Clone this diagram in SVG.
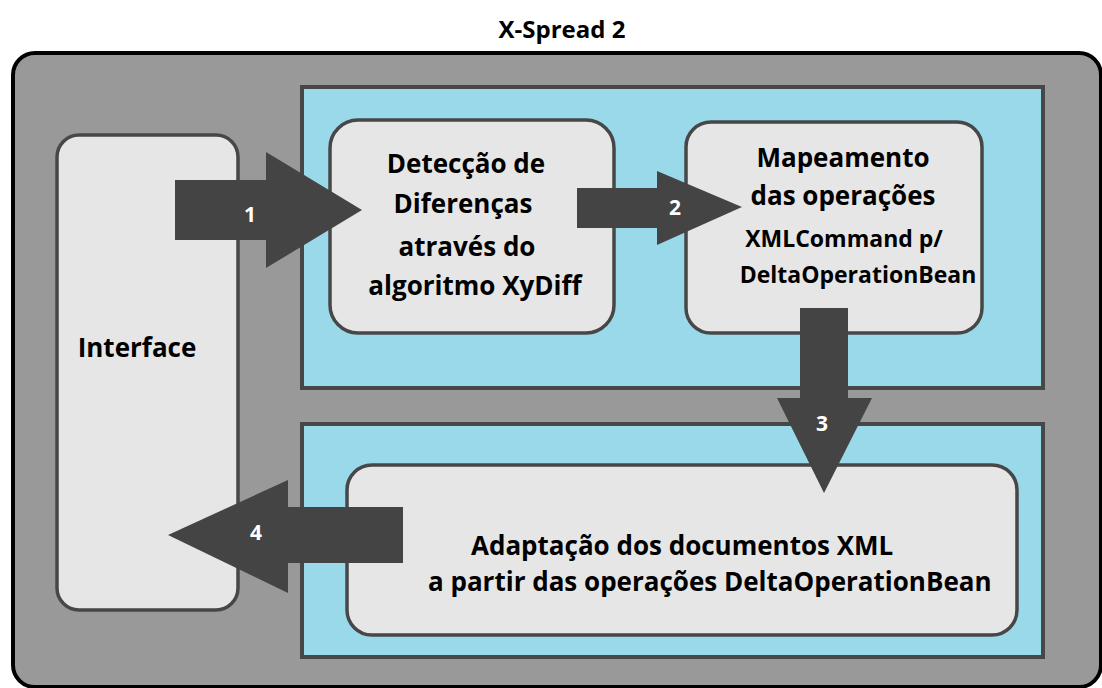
<svg xmlns="http://www.w3.org/2000/svg" width="1102" height="688" viewBox="0 0 1102 688">
  <style>
    .title { font-family: "Open Sans", "Liberation Sans", sans-serif; font-weight: bold; font-size: 24px; fill: #000; }
    .lbl { font-family: "Open Sans", "Liberation Sans", sans-serif; font-weight: bold; font-size: 26px; fill: #000; }
    .lbl-s { font-family: "Open Sans", "Liberation Sans", sans-serif; font-weight: bold; font-size: 23px; fill: #000; }
    .num { font-family: "Open Sans", "Liberation Sans", sans-serif; font-weight: bold; font-size: 21px; fill: #fff; text-anchor: middle; }
    .box { fill: #e6e6e6; stroke: #474747; stroke-width: 3.5; }
    .panel { fill: #99d9ea; stroke: #474747; stroke-width: 4; }
    .arrow { fill: #444444; }
  </style>

  <rect width="1102" height="688" fill="#ffffff"/>
  <text class="title" x="562" y="38" text-anchor="middle">X-Spread 2</text>

  <!-- outer container -->
  <g id="container">
    <rect x="13" y="53" width="1088" height="634" rx="22" fill="#999999" stroke="#000" stroke-width="4"/>
  </g>

  <g id="panel-top">
    <rect class="panel" x="302" y="87" width="741" height="301"/>
  </g>
  <g id="panel-bottom">
    <rect class="panel" x="302" y="424" width="741" height="233"/>
  </g>

  <g id="interface">
    <rect class="box" x="57" y="135" width="181" height="475" rx="22"/>
    <text class="lbl" x="137" y="357" text-anchor="middle">Interface</text>
  </g>

  <g id="deteccao">
    <rect class="box" x="330" y="120" width="284" height="213" rx="28"/>
    <text class="lbl" x="466" y="173" text-anchor="middle">Detecção de</text>
    <text class="lbl" x="463" y="213" text-anchor="middle">Diferenças</text>
    <text class="lbl" x="467" y="256" text-anchor="middle">através do</text>
    <text class="lbl" x="475" y="295" text-anchor="middle">algoritmo XyDiff</text>
  </g>

  <g id="mapeamento">
    <rect class="box" x="686" y="122" width="296" height="211" rx="25"/>
    <text class="lbl" x="843" y="167" text-anchor="middle">Mapeamento</text>
    <text class="lbl" x="843" y="205" text-anchor="middle">das operações</text>
    <text class="lbl-s" x="844" y="247" text-anchor="middle">XMLCommand p/</text>
    <text class="lbl-s" x="858" y="283" text-anchor="middle">DeltaOperationBean</text>
  </g>

  <g id="adaptacao">
    <rect class="box" x="347" y="465" width="670" height="170" rx="25"/>
    <text class="lbl" x="471" y="555">Adaptação dos documentos XML</text>
    <text class="lbl" x="428" y="591">a partir das operações DeltaOperationBean</text>
  </g>

  <!-- numbered block arrows -->
  <g id="connectors">
    <g id="arrow-1">
      <polygon class="arrow" points="175,180 266,180 266,152 362,210 266,268 266,240 175,240"/>
      <text class="num" x="250" y="222">1</text>
    </g>
    <g id="arrow-2">
      <polygon class="arrow" points="577,188 657,188 657,171 742,207 657,245 657,228 577,228"/>
      <text class="num" x="675" y="215">2</text>
    </g>
    <g id="arrow-3">
      <polygon class="arrow" points="800,308 848,308 848,398 872,398 824,493 777,398 800,398"/>
      <text class="num" x="822" y="431">3</text>
    </g>
    <g id="arrow-4">
      <polygon class="arrow" points="403,507 288,507 288,480 168,535 288,593 288,563 403,563"/>
      <text class="num" x="256" y="540">4</text>
    </g>
  </g>
</svg>
